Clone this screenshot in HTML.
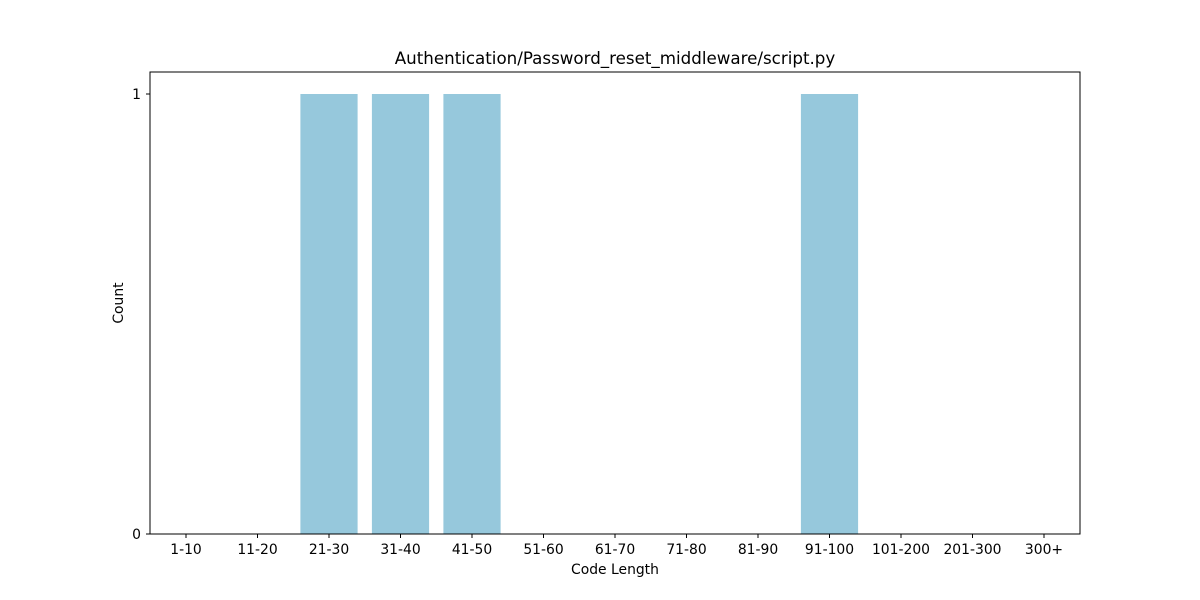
<!DOCTYPE html>
<html><head><meta charset="utf-8"><style>
body{margin:0;background:#fff;}
svg{display:block;font-family:"DejaVu Sans","Liberation Sans",sans-serif;}
</style></head><body>
<svg id="chart" width="1200" height="600">
<text x="615" y="64" text-anchor="middle" font-size="16.7">Authentication/Password_reset_middleware/script.py</text>
<g id="bars"></g>
<rect x="150" y="72" width="930" height="462" fill="none" stroke="#000" stroke-width="1"/>
<g id="xticks"></g>
<g id="yticks"></g>
<text x="615" y="574" text-anchor="middle" font-size="13.9">Code Length</text>
<text x="123" y="303" text-anchor="middle" font-size="13.9" transform="rotate(-90 123 303)">Count</text>
</svg>
<script>
const categories=["1-10","11-20","21-30","31-40","41-50","51-60","61-70","71-80","81-90","91-100","101-200","201-300","300+"];
const counts=[0,0,1,1,1,0,0,0,0,1,0,0,0];
const yTicks=[0,1];
const NS="http://www.w3.org/2000/svg";
const step=71.5, x0=186;
function xs(i){return x0+step*i;}
function ys(v){return 534-v*440;}
const bars=document.getElementById('bars'), xt=document.getElementById('xticks'), yt=document.getElementById('yticks');
categories.forEach((c,i)=>{
  const w=step*0.8;
  if(counts[i]>0){
    const r=document.createElementNS(NS,'rect');
    r.setAttribute('x',xs(i)-w/2);r.setAttribute('y',ys(counts[i]));
    r.setAttribute('width',w);r.setAttribute('height',ys(0)-ys(counts[i]));
    r.setAttribute('fill','#96c8dc');
    
    
    bars.appendChild(r);
  }
  const l=document.createElementNS(NS,'line');
  l.setAttribute('x1',xs(i));l.setAttribute('x2',xs(i));l.setAttribute('y1',534);l.setAttribute('y2',538);l.setAttribute('stroke','#000');
  
  
  xt.appendChild(l);
  const t=document.createElementNS(NS,'text');
  t.setAttribute('x',xs(i));t.setAttribute('y',554);t.setAttribute('text-anchor','middle');t.setAttribute('font-size','13.9');
  t.textContent=c;
  
  
  xt.appendChild(t);
});
yTicks.forEach(v=>{
  const l=document.createElementNS(NS,'line');
  l.setAttribute('x1',146);l.setAttribute('x2',150);l.setAttribute('y1',ys(v));l.setAttribute('y2',ys(v));l.setAttribute('stroke','#000');
  
  
  yt.appendChild(l);
  const t=document.createElementNS(NS,'text');
  t.setAttribute('x',141);t.setAttribute('y',ys(v)+5);t.setAttribute('text-anchor','end');t.setAttribute('font-size','13.9');
  t.textContent=v;
  
  
  yt.appendChild(t);
});
</script>
</body></html>
